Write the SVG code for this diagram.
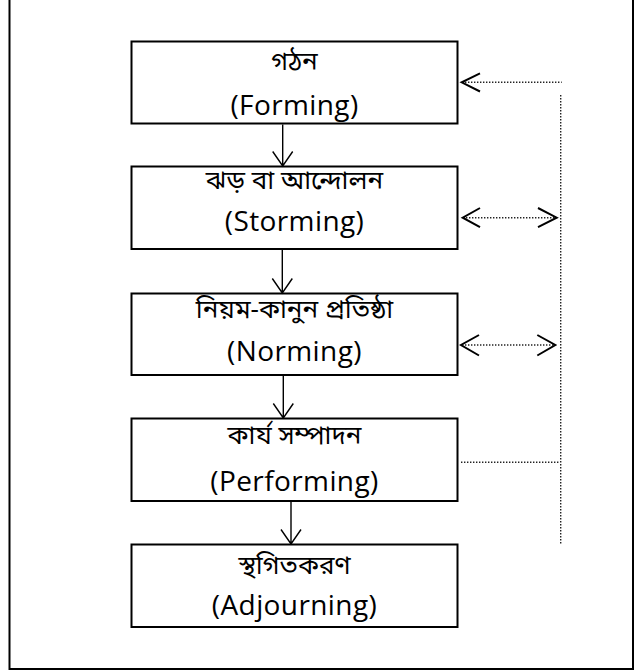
<svg xmlns="http://www.w3.org/2000/svg" width="634" height="670" viewBox="0 0 634 670">
<style>
.box{fill:#fff;stroke:#000;stroke-width:2}
.bn{font-family:"Noto Sans Bengali","Vrinda","Noto Sans",sans-serif;font-size:26px;fill:#000;text-anchor:middle}
.en{font-family:"Open Sans","Noto Sans",sans-serif;font-size:28px;letter-spacing:0.4px;fill:#000;text-anchor:middle}
.flow{stroke:#000;stroke-width:1.4;fill:none}
.dot{stroke:#222;stroke-width:1.4;stroke-dasharray:1.4 1.6;fill:none}
.head{stroke:#000;stroke-width:2;fill:none}
</style>
<rect width="634" height="670" fill="#fff"/>
<path d="M9.5 0 V669 H633 V0" fill="none" stroke="#000" stroke-width="2"/>
<g id="forming">
<rect class="box" x="131.5" y="41.5" width="326" height="82"/>
<text class="bn" x="294.5" y="70">গঠন</text>
<text class="en" x="294.5" y="115">(Forming)</text>
</g>
<g id="storming">
<rect class="box" x="131.5" y="166.5" width="326" height="82.5"/>
<text class="bn" x="294.5" y="189">ঝড় বা আন্দোলন</text>
<text class="en" x="294.5" y="231">(Storming)</text>
</g>
<g id="norming">
<rect class="box" x="131.5" y="293.5" width="326" height="81.5"/>
<text class="bn" x="294.5" y="318">নিয়ম-কানুন প্রতিষ্ঠা</text>
<text class="en" x="294.5" y="361">(Norming)</text>
</g>
<g id="performing">
<rect class="box" x="131.5" y="418.5" width="326" height="82.5"/>
<text class="bn" x="294.5" y="444">কার্য সম্পাদন</text>
<text class="en" x="294.5" y="491">(Performing)</text>
</g>
<g id="adjourning">
<rect class="box" x="131.5" y="544.5" width="326" height="82.5"/>
<text class="bn" x="294.5" y="574">স্থগিতকরণ</text>
<text class="en" x="294.5" y="615">(Adjourning)</text>
</g>
<g id="connectors">
<path class="flow" d="M282.7 124.5 V166 M272.7 151.5 L282.7 166 L292.7 151.5"/>
<path class="flow" d="M282.3 250 V293 M272.3 278.5 L282.3 293 L292.3 278.5"/>
<path class="flow" d="M283.3 376 V418 M273.3 403.5 L283.3 418 L293.3 403.5"/>
<path class="flow" d="M291 502 V544 M281 529.5 L291 544 L301 529.5"/>
<path class="dot" d="M462 82.3 H561.7"/>
<path class="head" d="M480 73.3 L461.7 82.3 L480 91.5"/>
<path class="dot" d="M560.7 95 V545"/>
<path class="dot" d="M463 217.7 H556"/>
<path class="head" d="M480 208 L462.7 217.7 L480 227.2 M538 208 L556.7 217.7 L538 227.2"/>
<path class="dot" d="M462 345 H555"/>
<path class="head" d="M479 335 L461 345 L479 355.5 M537.3 335 L555.3 345 L537.3 355.5"/>
<path class="dot" d="M461 462.3 H560"/>
</g>
</svg>
